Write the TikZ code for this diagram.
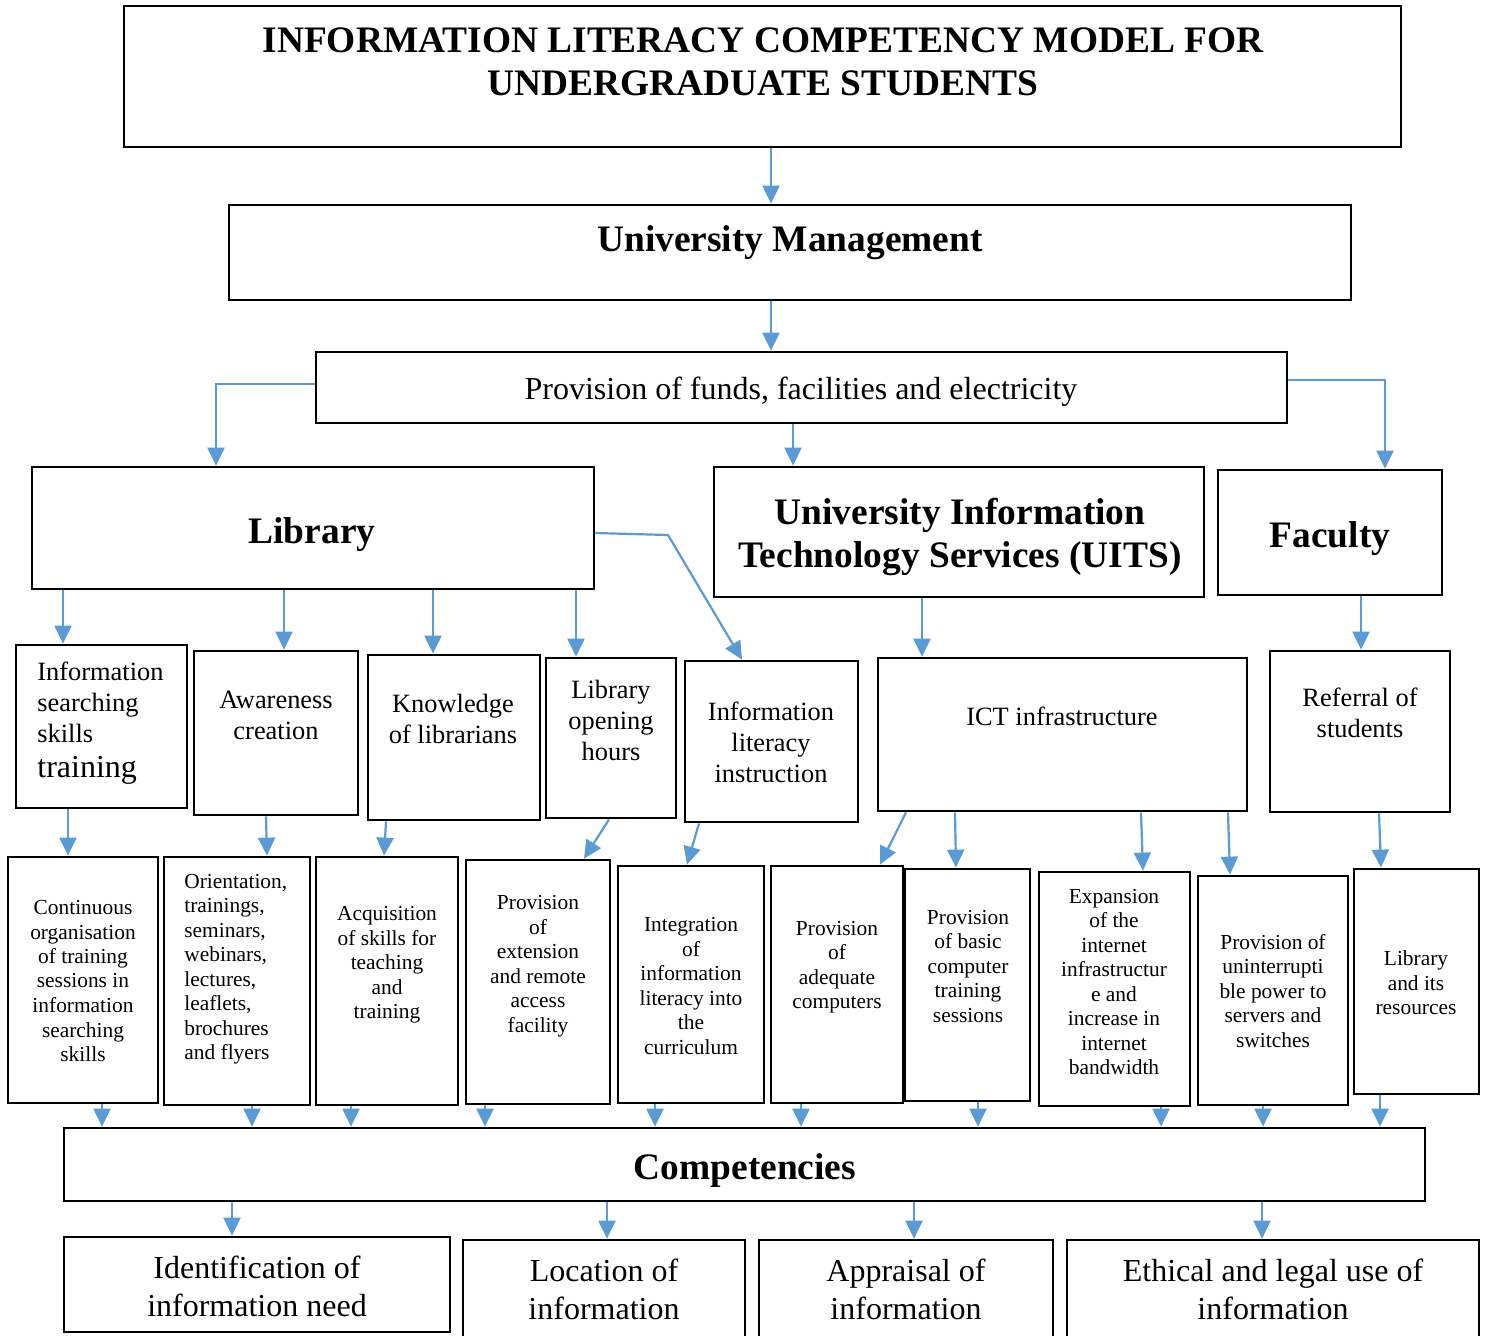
\documentclass[tikz,border=0pt]{standalone}
\usepackage{fontspec}
\setmainfont{Liberation Serif}
\usetikzlibrary{arrows.meta,fit}
\definecolor{arrblue}{HTML}{5B9BD5}

\tikzset{
  box/.style={draw, line width=1.4pt, inner sep=0pt},
  txthead/.style={font=\fontsize{18.7}{21.5}\selectfont\bfseries, align=center, inner sep=0pt},
  txtbig/.style={font=\fontsize{16}{19}\selectfont, align=center, inner sep=0pt},
  txtmid/.style={font=\fontsize{13.2}{15.5}\selectfont, align=center, inner sep=0pt},
  txtsmall/.style={font=\fontsize{10.7}{12.25}\selectfont, align=center, inner sep=0pt},
  arr/.style={draw=arrblue, line width=1.1pt, -{Triangle[length=9pt,width=8.5pt]}},
}

\begin{document}
\begin{tikzpicture}[x=0.5pt, y=-0.5pt]
\path[use as bounding box, fill=white] (0,0) rectangle (1489,1335);

% boxes, from their corners
\node[box, fit={(124,6) (1401,147)}] (ttl) {};
\node[box, fit={(229,205) (1351,300)}] (um) {};
\node[box, fit={(316,352) (1287,423)}] (fund) {};
\node[box, fit={(32,467) (594,589)}] (lib) {};
\node[box, fit={(714,467) (1204,597)}] (uits) {};
\node[box, fit={(1218,470) (1442,595)}] (fac) {};
\node[box, fit={(16,645) (187,808)}] (iss) {};
\node[box, fit={(194,651) (358,815)}] (awr) {};
\node[box, fit={(368,655) (540,820)}] (kol) {};
\node[box, fit={(546,658) (676,818)}] (loh) {};
\node[box, fit={(685,661) (858,822)}] (ili) {};
\node[box, fit={(878,658) (1247,811)}] (ict) {};
\node[box, fit={(1270,651) (1450,812)}] (ref) {};
\node[box, fit={(8,857) (158,1103)}] (cont) {};
\node[box, fit={(164,857) (310,1105)}] (ori) {};
\node[box, fit={(316,857) (458,1105)}] (acq) {};
\node[box, fit={(466,860) (610,1104)}] (ext) {};
\node[box, fit={(618,866) (764,1103)}] (integ) {};
\node[box, fit={(771,866) (903,1103)}] (adq) {};
\node[box, fit={(905,869) (1030,1101)}] (bct) {};
\node[box, fit={(1039,872) (1190,1106)}] (expn) {};
\node[box, fit={(1198,876) (1348,1105)}] (ups) {};
\node[box, fit={(1354,869) (1479,1094)}] (lres) {};
\node[box, fit={(64,1128) (1425,1201)}] (comp) {};
\node[box, fit={(64,1237) (450,1332)}] (idn) {};
\node[box, fit={(463,1240) (745,1345)}] (loc) {};
\node[box, fit={(759,1240) (1053,1345)}] (apr) {};
\node[box, fit={(1067,1240) (1479,1345)}] (eth) {};

% texts
\node[txthead] (ttl-t) at (763,62) {INFORMATION LITERACY COMPETENCY MODEL FOR\\UNDERGRADUATE STUDENTS};
\node[txthead] (um-t) at (790,243) {University Management};
\node[txtbig] (fund-t) at (801,392) {Provision of funds, facilities and electricity};
\node[txthead] (lib-t) at (312,535) {Library};
\node[txthead] (uits-t) at (960,537) {University Information\\Technology Services (UITS)};
\node[txthead] (fac-t) at (1330,539) {Faculty};

\node[txtmid, align=left, anchor=west] (iss-t) at (37,723) {Information\\searching\\skills\\[2pt]{\fontsize{16}{19}\selectfont training}};
\node[txtmid] (awr-t) at (276,715) {Awareness\\creation};
\node[txtmid] (kol-t) at (453,719) {Knowledge\\of librarians};
\node[txtmid] (loh-t) at (611,720) {Library\\opening\\hours};
\node[txtmid] (ili-t) at (771,742) {Information\\literacy\\instruction};
\node[txtmid] (ict-t) at (1062,716) {ICT infrastructure};
\node[txtmid] (ref-t) at (1360,713) {Referral of\\students};

\node[txtsmall] (cont-t) at (83,981) {Continuous\\organisation\\of training\\sessions in\\information\\searching\\skills};
\node[txtsmall, align=left, anchor=west] (ori-t) at (184,969) {Orientation,\\trainings,\\seminars,\\webinars,\\lectures,\\leaflets,\\brochures\\and flyers};
\node[txtsmall] (acq-t) at (387,965) {Acquisition\\of skills for\\teaching\\and\\training};
\node[txtsmall] (ext-t) at (538,966) {Provision\\of\\extension\\and remote\\access\\facility};
\node[txtsmall] (integ-t) at (691,986) {Integration\\of\\information\\literacy into\\the\\curriculum};
\node[txtsmall] (adq-t) at (837,967) {Provision\\of\\adequate\\computers};
\node[txtsmall] (bct-t) at (968,966) {Provision\\of basic\\computer\\training\\sessions};
\node[txtsmall] (expn-t) at (1114,982) {Expansion\\of the\\internet\\infrastructur\\e and\\increase in\\internet\\bandwidth};
\node[txtsmall] (ups-t) at (1273,991) {Provision of\\uninterrupti\\ble power to\\servers and\\switches};
\node[txtsmall] (lres-t) at (1416,983) {Library\\and its\\resources};

\node[txthead] (comp-t) at (745,1170) {Competencies};
\node[txtbig] (idn-t) at (257,1286) {Identification of\\information need};
\node[txtbig] (loc-t) at (604,1289) {Location of\\information};
\node[txtbig] (apr-t) at (906,1289) {Appraisal of\\information};
\node[txtbig] (eth-t) at (1273,1289) {Ethical and legal use of\\information};

% connectors
\draw[arr] (ttl.south -| 771,0) -- (um.north -| 771,0);
\draw[arr] (um.south -| 771,0) -- (fund.north -| 771,0);
\draw[arr] (fund.west |- 0,384) -| (lib.north -| 216,0);
\draw[arr] (fund.south -| 793,0) -- (uits.north -| 793,0);
\draw[arr] (fund.east |- 0,380) -| (fac.north -| 1385,0);

\foreach \b/\x in {iss/63, awr/284, kol/433, loh/576}
  \draw[arr] (lib.south -| \x,0) -- (\b.north -| \x,0);
\coordinate (libbend) at (668,535);
\draw[arr] (lib.east |- 0,533) -- (libbend) -- (ili.north -| 742,0);
\draw[arr] (uits.south -| 922,0) -- (ict.north -| 922,0);
\draw[arr] (fac.south -| 1361,0) -- (ref.north -| 1361,0);

\draw[arr] (iss.south -| 68,0) -- (cont.north -| 68,0);
\draw[arr] (awr.south -| 266,0) -- (ori.north -| 267,0);
\draw[arr] (kol.south -| 386,0) -- (acq.north -| 384,0);
\draw[arr] (loh.south -| 609,0) -- (ext.north -| 584,0);
\draw[arr] (ili.south -| 699,0) -- (integ.north -| 687,0);
\draw[arr] (ict.south -| 906,0) -- (adq.north -| 880,0);
\draw[arr] (ict.south -| 955,0) -- (bct.north -| 956,0);
\draw[arr] (ict.south -| 1141,0) -- (expn.north -| 1143,0);
\draw[arr] (ict.south -| 1228,0) -- (ups.north -| 1230,0);
\draw[arr] (ref.south -| 1379,0) -- (lres.north -| 1381,0);

\foreach \b/\x in {cont/102, ori/252, acq/351, ext/485, integ/655, adq/801, bct/978, expn/1161, ups/1263, lres/1380}
  \draw[arr] (\b.south -| \x,0) -- (comp.north -| \x,0);
\foreach \b/\x in {idn/232, loc/607, apr/914, eth/1262}
  \draw[arr] (comp.south -| \x,0) -- (\b.north -| \x,0);
\end{tikzpicture}
\end{document}
